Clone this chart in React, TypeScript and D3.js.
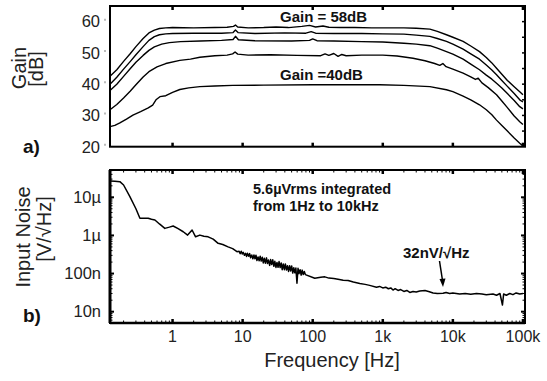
import React from "react";
import * as d3 from "d3";

// ---------- DATA ----------
const xTickValues = [1, 10, 100, 1000, 10000, 100000];
const xTickLabels = ["1", "10", "100", "1k", "10k", "100k"];
const gainTickValues = [20, 30, 40, 50, 60];
const noiseTickValues = [1e-8, 1e-7, 1e-6, 1e-5];
const noiseTickLabels = ["10n", "100n", "1µ", "10µ"];

// gain curves: [frequency Hz, gain dB]
const gain58: [number, number][] = [
  [0.128, 42.5], [0.16, 44.6], [0.2, 47.3], [0.25, 49.8], [0.3, 52], [0.38, 54.6], [0.46, 56.4], [0.55, 57.3],
  [0.65, 57.8], [0.8, 58], [1, 58.1], [2, 58], [4, 58.1], [6, 58.2], [7.4, 58.5], [7.9, 58.9], [8.5, 58.3], [12, 58],
  [20, 58.1], [30, 58.3], [45, 58.1], [70, 58.5], [90, 58.8], [110, 58.3], [140, 58.6], [170, 58.2], [250, 58.1],
  [400, 58.1], [700, 58], [1000, 58], [2000, 58], [3000, 57.9], [4700, 57.6], [6000, 56.9], [8100, 55.8],
  [10000, 55], [14000, 53.7], [18000, 52.2], [24000, 50.4], [30000, 48.5], [36000, 46.8], [42000, 45.1],
  [50000, 43.2], [60000, 41.2], [75000, 39.2], [90000, 37.6], [100000, 36.6],
];
const gain56: [number, number][] = [
  [0.128, 40], [0.16, 42.2], [0.2, 44.8], [0.25, 47.3], [0.3, 49.4], [0.38, 52], [0.46, 54], [0.55, 55.2],
  [0.65, 55.8], [0.8, 56.1], [1, 56.2], [2, 56.3], [5, 56.3], [7.3, 56.5], [7.9, 57.3], [8.6, 56.5], [15, 56.2],
  [40, 56.4], [80, 56.3], [95, 56.8], [110, 56.3], [200, 56.2], [500, 56.2], [1000, 56.1], [2000, 56],
  [3000, 55.7], [4700, 55.3], [6000, 54.6], [8100, 53.7], [10000, 52.8], [14000, 51.2], [18000, 49.7],
  [24000, 48], [30000, 46.1], [36000, 44.5], [42000, 43], [50000, 41.2], [60000, 39.3], [75000, 37],
  [90000, 35], [100000, 34.3],
];
const gain53: [number, number][] = [
  [0.128, 38], [0.16, 40], [0.2, 42.5], [0.25, 45], [0.3, 47], [0.38, 49.2], [0.46, 50.8], [0.55, 51.9],
  [0.7, 52.8], [0.9, 53.3], [1.3, 53.6], [2.5, 53.8], [5, 54], [7.3, 54.3], [7.9, 55.3], [8.7, 54.2], [15, 53.9],
  [50, 53.8], [90, 54], [100, 54.5], [115, 53.9], [200, 53.8], [500, 53.6], [1000, 53.5], [2000, 53.1],
  [3000, 52.8], [4700, 52.3], [6000, 51.5], [8100, 50.4], [10000, 49.6], [14000, 48], [18000, 46.4],
  [24000, 44.6], [30000, 42.9], [36000, 41.6], [42000, 40.3], [50000, 38.8], [60000, 37], [75000, 34.8],
  [90000, 32.8], [100000, 32.1],
];
const gain49: [number, number][] = [
  [0.128, 31.8], [0.16, 33.5], [0.2, 35.6], [0.25, 37.8], [0.3, 39.8], [0.38, 42.3], [0.46, 44], [0.6, 45.5],
  [0.8, 46.6], [1.27, 47.6], [1.8, 48], [2.45, 48.6], [4, 49.1], [6, 49.3], [7.2, 49.7], [7.8, 50.3], [8.5, 49.6],
  [12, 49.3], [25, 49.4], [60, 49.2], [130, 49.1], [150, 49.7], [170, 49.2], [200, 49.8], [230, 48.9],
  [260, 49.5], [300, 49.1], [500, 49.3], [1000, 49.3], [1600, 49], [2700, 48.3], [4000, 47.5], [5500, 46.6],
  [6500, 46], [7200, 46.6], [8000, 45.6], [10000, 44.8], [14000, 43.5], [18000, 42.3], [21000, 41.5],
  [23000, 41.9], [26000, 40.4], [32000, 38.9], [42000, 36.6], [50000, 34.6], [60000, 32.5], [75000, 29.8],
  [90000, 28], [100000, 27.1],
];
const gain40: [number, number][] = [
  [0.128, 26.4], [0.15, 26.8], [0.177, 27.6], [0.22, 28.8], [0.272, 30.1], [0.35, 31.2], [0.45, 32.4],
  [0.52, 33.3], [0.58, 35], [0.66, 36], [0.8, 36.3], [1, 37.4], [1.27, 38.3], [1.7, 38.8], [2.45, 39.2],
  [4, 39.4], [7.2, 39.6], [20, 39.7], [100, 39.8], [500, 39.8], [906, 39.8], [2000, 39.6], [4700, 39.2],
  [8100, 38.2], [10000, 37.6], [14000, 36.2], [18000, 35], [24000, 33.4], [30000, 31.8], [36000, 30.2],
  [42000, 28.5], [50000, 26.8], [60000, 25], [75000, 22.8], [90000, 21.1], [100000, 20.2],
];

// input noise: [frequency Hz, nV/sqrt(Hz)]
const noiseLow: [number, number][] = [
  [0.128, 26800], [0.15, 26500], [0.177, 25700], [0.2, 21000], [0.246, 10400], [0.3, 5000], [0.342, 2810],
  [0.449, 2810], [0.5, 2650], [0.56, 2540], [0.65, 2000], [0.776, 1530], [0.9, 1650], [1.02, 1770],
  [1.2, 1500], [1.42, 1250], [1.64, 1020], [1.9, 1390], [2.13, 920], [2.45, 1020], [2.8, 950], [3.22, 920],
  [3.8, 800], [4.47, 620], [5.2, 580], [6.2, 500], [7.2, 450], [8.3, 375],
];
const noiseMid: [number, number][] = [
  [8.91, 382], [9.23, 333], [9.55, 384], [9.89, 327], [10.2, 361], [10.6, 301], [11.0, 338], [11.4, 282],
  [11.7, 340], [12.2, 283], [12.6, 334], [13.0, 260], [13.5, 306], [14.0, 244], [14.5, 308], [15.0, 245],
  [15.5, 302], [16.0, 220], [16.6, 271], [17.2, 216], [17.8, 285], [18.4, 212], [19.1, 267], [19.7, 190],
  [20.4, 251], [21.1, 187], [21.9, 258], [22.6, 183], [23.4, 226], [24.3, 164], [25.1, 233], [26.0, 173],
  [26.9, 229], [27.9, 155], [28.8, 209], [29.9, 145], [30.9, 196], [32.0, 146], [33.1, 207], [34.3, 144],
  [35.5, 190], [36.7, 126], [38.0, 178], [39.4, 126], [40.7, 179], [42.2, 124], [43.7, 160], [45.2, 114],
  [46.8, 161], [48.4, 117], [50.1, 158], [51.9, 103], [53.7, 142], [55.6, 105], [57.5, 139], [59.6, 56],
  [61.7, 137], [63.8, 99.5], [66.1, 126], [68.4, 91], [70.8, 123], [73.3, 94], [75.9, 113], [78.5, 94],
];
const noiseHigh: [number, number][] = [
  [107, 75], [130, 80], [149, 82], [170, 76], [200, 74], [240, 70], [272, 67], [320, 66], [380, 60],
  [470, 55], [560, 52], [650, 49], [813, 44], [900, 46], [1000, 42], [1100, 44], [1200, 40], [1300, 42],
  [1400, 37], [1500, 40], [1650, 36], [1800, 38], [2000, 34], [2200, 36], [2430, 32], [2700, 34],
  [3000, 33], [3370, 35], [4000, 36], [4500, 34], [5220, 31], [6000, 30], [7240, 30.5], [8000, 32],
  [9000, 30], [10000, 31], [12500, 29], [15000, 30], [18000, 28.5], [21700, 30], [26000, 29], [30000, 28],
  [37400, 29], [42000, 27], [47000, 30], [51000, 15], [53000, 29], [58000, 27], [64900, 30], [72000, 28],
  [80000, 31], [90000, 29], [100000, 30],
];

// ---------- LAYOUT ----------
const W = 547;
const H = 381;
const L = 110;
const R = 525;
const topA = 6;
const botA = 146.7;
const topB = 170;
const botB = 323;
const FONT = "'Liberation Sans', Arial, Helvetica, sans-serif";

export default function App() {
  const x = d3.scaleLog().domain([0.128, 107000]).range([L, R]);
  const yA = d3.scaleLinear().domain([20, 65]).range([botA, topA]);
  const yB = d3.scaleLog().domain([5.05e-9, 5.2e-5]).range([botB, topB]);

  const lineA = d3
    .line<[number, number]>()
    .x((d) => x(d[0]))
    .y((d) => yA(d[1]));
  const noiseAll = [...noiseLow, ...noiseMid, ...noiseHigh];
  const lineB = d3
    .line<[number, number]>()
    .x((d) => x(d[0]))
    .y((d) => yB(d[1] * 1e-9));

  const gainCurves = [gain58, gain56, gain53, gain49, gain40];

  const minorX: number[] = [];
  for (let e = -1; e <= 5; e++) {
    for (let m = 2; m <= 9; m++) {
      const v = m * Math.pow(10, e);
      if (v > 0.128 && v < 107000) minorX.push(v);
    }
  }
  const minorY: number[] = [];
  for (let e = -9; e <= -5; e++) {
    for (let m = 2; m <= 9; m++) {
      const v = m * Math.pow(10, e);
      if (v > 5.05e-9 && v < 5.2e-5) minorY.push(v);
    }
  }
  const gainRightTicks = d3.range(25, 65, 5);

  const arrowX1 = 439.5;
  const arrowY1 = 261;
  const arrowX2 = 443;
  const arrowY2 = 287;

  return (
    <svg
      width={W}
      height={H}
      style={{ position: "absolute", left: 0, top: 0, background: "#fff" }}
      fontFamily={FONT}
    >
      <rect x={0} y={0} width={W} height={H} fill="#fff" />

      {/* ---------- Panel a ---------- */}
      <g>
        {gainCurves.map((c, i) => (
          <path key={i} d={lineA(c) || ""} fill="none" stroke="#000" strokeWidth={1.4} strokeLinejoin="round" />
        ))}
        <rect x={L} y={topA} width={R - L} height={botA - topA} fill="none" stroke="#000" strokeWidth={2} />
        {xTickValues.map((v) => (
          <g key={v}>
            <line x1={x(v)} x2={x(v)} y1={topA} y2={topA + 4} stroke="#000" strokeWidth={2.5} />
            <line x1={x(v)} x2={x(v)} y1={botA} y2={botA - 4} stroke="#000" strokeWidth={2.5} />
          </g>
        ))}
        {gainRightTicks.map((v) => (
          <line key={v} x1={R} x2={R - 3} y1={yA(v)} y2={yA(v)} stroke="#000" strokeWidth={1.5} />
        ))}
        {gainTickValues.map((v) => (
          <g key={v}>
            <line x1={L - 6} x2={L - 4} y1={yA(v) - 2} y2={yA(v) - 2} stroke="#bbb" strokeWidth={2} />
            <text x={100} y={yA(v) + 5.8} textAnchor="end" fontSize={16.5} fill="#222">
              {v}
            </text>
          </g>
        ))}
        <text transform={`translate(26,68) rotate(-90)`} textAnchor="middle" fontSize={20} fill="#222">
          Gain
        </text>
        <text transform={`translate(43,69) rotate(-90)`} textAnchor="middle" fontSize={20} fill="#222">
          [dB]
        </text>
        <text x={23} y={153} fontSize={19} fontWeight="bold" fill="#111">
          a)
        </text>
        <text x={280} y={22} fontSize={15} fontWeight="bold" fill="#111">
          Gain = 58dB
        </text>
        <text x={280} y={80} fontSize={15} fontWeight="bold" fill="#111">
          Gain =40dB
        </text>
      </g>

      {/* ---------- Panel b ---------- */}
      <g>
        <path d={lineB(noiseAll) || ""} fill="none" stroke="#000" strokeWidth={1.5} strokeLinejoin="round" />
        <rect x={L} y={topB} width={R - L} height={botB - topB} fill="none" stroke="#000" strokeWidth={2} />
        <line x1={L} x2={L} y1={topB} y2={botB} stroke="#000" strokeWidth={3} />
        <line x1={L} x2={R} y1={botB} y2={botB} stroke="#000" strokeWidth={2.5} />
        {minorX.map((v) => (
          <g key={v}>
            <line x1={x(v)} x2={x(v)} y1={topB} y2={topB + 2.5} stroke="#000" strokeWidth={1} />
            <line x1={x(v)} x2={x(v)} y1={botB} y2={botB - 2.5} stroke="#000" strokeWidth={1} />
          </g>
        ))}
        {minorY.map((v) => (
          <g key={v}>
            <line x1={R} x2={R - 2.5} y1={yB(v)} y2={yB(v)} stroke="#000" strokeWidth={1} />
            <line x1={L} x2={L + 2.5} y1={yB(v)} y2={yB(v)} stroke="#000" strokeWidth={1} />
          </g>
        ))}
        {xTickValues.map((v) => (
          <g key={v}>
            <line x1={x(v)} x2={x(v)} y1={topB} y2={topB + 4} stroke="#000" strokeWidth={2.5} />
            <line x1={x(v)} x2={x(v)} y1={botB} y2={botB - 4} stroke="#000" strokeWidth={2.5} />
          </g>
        ))}
        {noiseTickValues.map((v, i) => (
          <g key={v}>
            <line x1={L} x2={L + 4} y1={yB(v)} y2={yB(v)} stroke="#000" strokeWidth={2} />
            <line x1={R} x2={R - 4} y1={yB(v)} y2={yB(v)} stroke="#000" strokeWidth={2} />
            <text x={101} y={yB(v) + 5.8} textAnchor="end" fontSize={16.5} fill="#222">
              {noiseTickLabels[i]}
            </text>
          </g>
        ))}
        {xTickValues.map((v, i) => (
          <text key={v} x={x(v)} y={342} textAnchor="middle" fontSize={16} fill="#222">
            {xTickLabels[i]}
          </text>
        ))}
        <text x={332} y={367} textAnchor="middle" fontSize={20} fill="#222">
          Frequency [Hz]
        </text>
        <text transform={`translate(30,237) rotate(-90)`} textAnchor="middle" fontSize={20} fill="#222">
          Input Noise
        </text>
        <text transform={`translate(51,229) rotate(-90)`} textAnchor="middle" fontSize={20} fill="#222">
          [V/√Hz]
        </text>
        <text x={23} y={322} fontSize={19} fontWeight="bold" fill="#111">
          b)
        </text>
        <text x={253} y={193.5} fontSize={14.5} fontWeight="bold" fill="#111">
          5.6µVrms integrated
        </text>
        <text x={253} y={210.5} fontSize={14.5} fontWeight="bold" fill="#111">
          from 1Hz to 10kHz
        </text>
        <text x={403} y={258} fontSize={15} fontWeight="bold" fill="#111">
          32nV/√Hz
        </text>
        <line x1={arrowX1} y1={arrowY1} x2={arrowX2 - 0.4} y2={arrowY2 - 6} stroke="#000" strokeWidth={1.5} />
        <path
          d={`M${arrowX2},${arrowY2} L${arrowX2 - 3.5},${arrowY2 - 8} L${arrowX2 + 2.5},${arrowY2 - 8.5} Z`}
          fill="#000"
        />
      </g>
    </svg>
  );
}
